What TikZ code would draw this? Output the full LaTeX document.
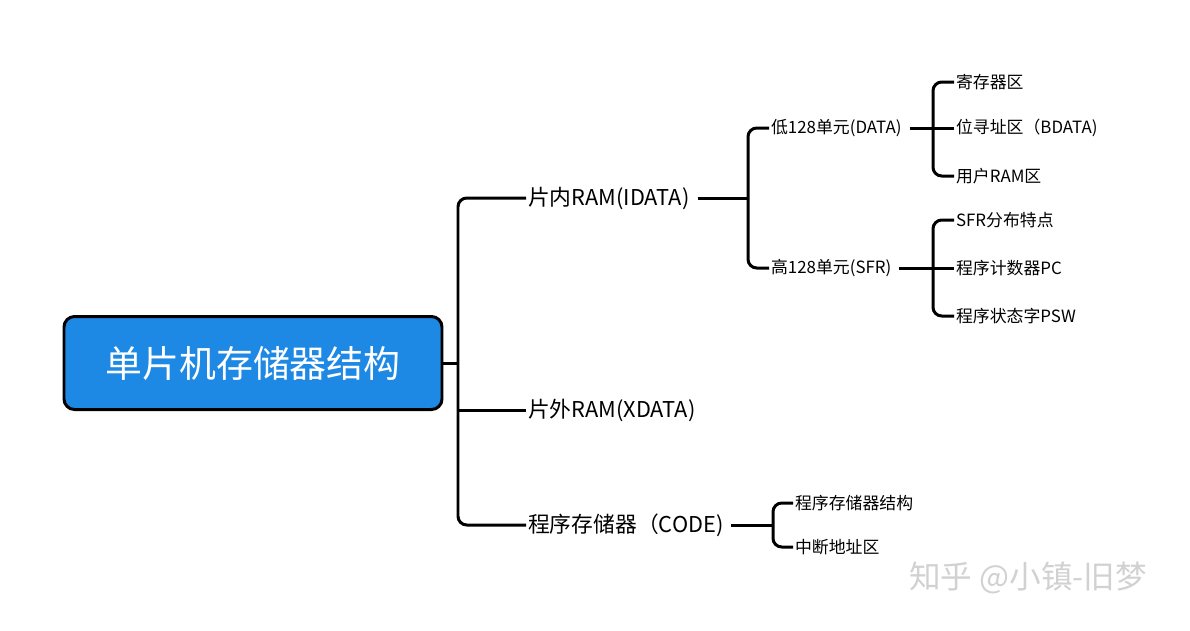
\documentclass[tikz,border=0pt]{standalone}
\usepackage{fontspec}
\setmainfont{Noto Sans CJK SC}
\usetikzlibrary{positioning}
\definecolor{rootblue}{HTML}{1E88E5}
\tikzset{
  br/.style={line width=1.7pt, rounded corners=5pt},
  lvA/.style={anchor=west, inner sep=1pt, font=\fontsize{12.4}{14}\selectfont},
  lvB/.style={anchor=west, inner sep=1pt, font=\fontsize{9.6}{11}\selectfont},
}
\newcommand{\twig}[2]{\draw [br] (#1) |- (#2.west);}
\begin{document}
\begin{tikzpicture}[x=0.02cm, y=-0.02cm]
\useasboundingbox (0,0) rectangle (1190,630);

\node[draw, line width=1.7pt, rounded corners=6pt, fill=rootblue, text=white,
  minimum width=378*0.02cm, minimum height=93*0.02cm,
  font=\fontsize{21}{24}\selectfont] (root) at (253,363)
  {单片机存储器结构};

\node[lvA] (idata) at (526,198) {片内RAM(IDATA)};
\node[lvA] (xdata) at (526,410) {片外RAM(XDATA)};
\node[lvA] (code) at (526,525) {程序存储器（CODE)};

\node[lvB] (data) at (769,128) {低128单元(DATA)};
\node[lvB] (sfr) at (769,268) {高128单元(SFR)};

\node[lvB] (reg) at (954,82) {寄存器区};
\node[lvB] (bdata) at (954,128) {位寻址区（BDATA)};
\node[lvB] (user) at (954,176) {用户RAM区};
\node[lvB] (sfrf) at (954,220) {SFR分布特点};
\node[lvB] (pc) at (954,268) {程序计数器PC};
\node[lvB] (psw) at (954,316) {程序状态字PSW};

\node[lvB] (cstr) at (793,503) {程序存储器结构};
\node[lvB] (intr) at (793,547) {中断地址区};

% level 1
\coordinate (j0) at (458,363);
\draw [br] (root.east) -- (j0);
\twig{j0}{idata} \twig{j0}{code}
\draw [br] (j0 |- xdata.west) -- (xdata.west);
% level 2
\coordinate (j1) at (748,198);
\draw [br] (idata.east) ++(6,0) -- (j1);
\twig{j1}{data} \twig{j1}{sfr}
\coordinate (j2) at (773,525);
\draw [br] (code.east) ++(6,0) -- (j2);
\twig{j2}{cstr} \twig{j2}{intr}
% level 3
\coordinate (j3) at (933,128);
\draw [br] (data.east) ++(6,0) -- (j3);
\twig{j3}{reg} \twig{j3}{user}
\draw [br] (j3) -- (bdata.west);
\coordinate (j4) at (933,268);
\draw [br] (sfr.east) ++(6,0) -- (j4);
\twig{j4}{sfrf} \twig{j4}{psw}
\draw [br] (j4) -- (pc.west);

\node[text=black!18, font=\fontsize{18}{20}\selectfont] (mark) at (1028,578) {知乎 @小镇-旧梦};
\end{tikzpicture}
\end{document}
